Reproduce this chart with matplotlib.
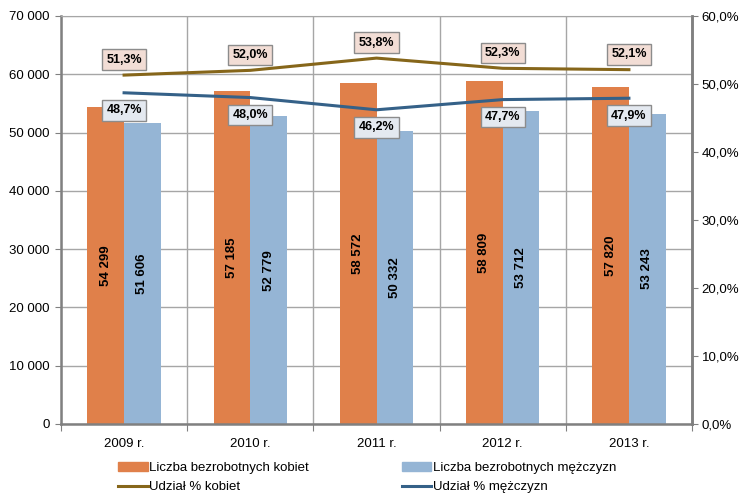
import numpy as np
import matplotlib.pyplot as plt
from matplotlib.patches import Patch
from matplotlib.lines import Line2D
from matplotlib.ticker import FuncFormatter, MultipleLocator

plt.rcParams["font.family"] = ["Liberation Sans", "DejaVu Sans"]

years = ["2009 r.", "2010 r.", "2011 r.", "2012 r.", "2013 r."]
kobiety = [54299, 57185, 58572, 58809, 57820]
mezczyzni = [51606, 52779, 50332, 53712, 53243]
udzial_k = [51.3, 52.0, 53.8, 52.3, 52.1]
udzial_m = [48.7, 48.0, 46.2, 47.7, 47.9]

c_orange = "#E0804A"
c_blue = "#95B5D5"
c_line_k = "#86661A"
c_line_m = "#356188"
c_grid = "#A6A6A6"


def spaced(v):
    return f"{v:,}".replace(",", " ")


fig = plt.figure(figsize=(7.41, 4.98), dpi=100)
ax = fig.add_axes([0.0823, 0.1486, 0.8516, 0.8194])
ax2 = ax.twinx()

x = np.arange(len(years))
w = 0.29
ax.bar(x - w / 2, kobiety, w, color=c_orange, zorder=2)
ax.bar(x + w / 2, mezczyzni, w, color=c_blue, zorder=2)

for xi, k, m in zip(x, kobiety, mezczyzni):
    ax.text(xi - w / 2, k / 2, spaced(k), rotation=90, ha="center", va="center",
            fontsize=9.5, fontweight="bold", zorder=3)
    ax.text(xi + w / 2, m / 2, spaced(m), rotation=90, ha="center", va="center",
            fontsize=9.5, fontweight="bold", zorder=3)

ax.set_ylim(0, 70000)
ax.set_xlim(-0.5, len(years) - 0.5)
ax.yaxis.set_major_locator(MultipleLocator(10000))
ax.yaxis.set_major_formatter(FuncFormatter(lambda v, p: spaced(int(v))))

# category boundaries as major ticks, labels on minor ticks at centers
ax.set_xticks(np.arange(-0.5, len(years), 1.0))
ax.set_xticklabels([])
ax.set_xticks(x, minor=True)
ax.set_xticklabels(years, minor=True)
ax.tick_params(axis="x", which="minor", length=0, pad=10, labelsize=9.5)
ax.tick_params(axis="x", which="major", length=5, color="#808080")
ax.tick_params(axis="y", length=4, color="#808080", labelsize=9.5, pad=4)

ax.grid(True, which="major", color=c_grid, linewidth=1, zorder=0)
ax.set_axisbelow(True)

for side in ["left", "bottom", "right"]:
    ax.spines[side].set_color("#808080")
    ax.spines[side].set_linewidth(1.8)
ax.spines["top"].set_color(c_grid)
for side in ["left", "bottom", "top"]:
    ax2.spines[side].set_visible(False)
ax2.spines["right"].set_color("#808080")
ax2.spines["right"].set_linewidth(1.8)

ax2.plot(x, udzial_k, color=c_line_k, linewidth=2.2, zorder=4)
ax2.plot(x, udzial_m, color=c_line_m, linewidth=2.2, zorder=4)
ax2.set_ylim(0, 60)
ax2.yaxis.set_major_locator(MultipleLocator(10))
ax2.yaxis.set_major_formatter(FuncFormatter(lambda v, p: f"{v:.1f}%".replace(".", ",")))
ax2.tick_params(axis="y", length=4, color="#808080", labelsize=9.5, pad=3)

for xi, k, m in zip(x, udzial_k, udzial_m):
    ax2.annotate(f"{k:.1f}%".replace(".", ","), (xi, k), xytext=(0, 11),
                 textcoords="offset points", ha="center", va="center",
                 fontsize=9, fontweight="bold", zorder=5,
                 bbox=dict(boxstyle="square,pad=0.35", fc="#F2DDD5", ec="#8C8C8C", lw=1))
    ax2.annotate(f"{m:.1f}%".replace(".", ","), (xi, m), xytext=(0, -12.5),
                 textcoords="offset points", ha="center", va="center",
                 fontsize=9, fontweight="bold", zorder=5,
                 bbox=dict(boxstyle="square,pad=0.35", fc="#E4E9F0", ec="#8C8C8C", lw=1))

handles = [
    Patch(color=c_orange, label="Liczba bezrobotnych kobiet"),
    Line2D([], [], color=c_line_k, linewidth=2.2, label="Udział % kobiet"),
    Patch(color=c_blue, label="Liczba bezrobotnych mężczyzn"),
    Line2D([], [], color=c_line_m, linewidth=2.2, label="Udział % mężczyzn"),
]
fig.legend(handles=handles, ncol=2, loc="lower left", bbox_to_anchor=(0.151, -0.004),
           frameon=False, fontsize=9.5, handlelength=2.2, handleheight=0.65,
           handletextpad=0.15, columnspacing=7.0, labelspacing=0.55, borderpad=0)

fig.savefig("out.png", dpi=100)
